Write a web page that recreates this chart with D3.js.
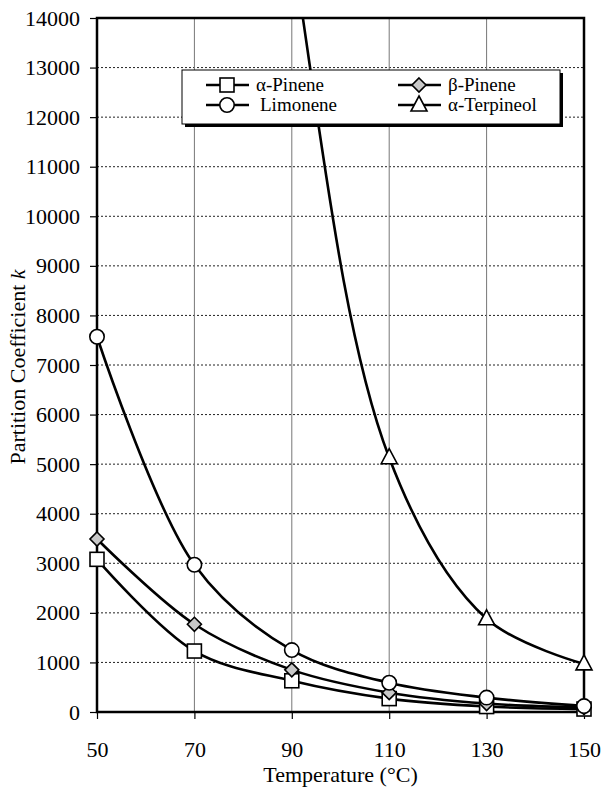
<!DOCTYPE html>
<html>
<head>
<meta charset="utf-8">
<script src="https://cdn.jsdelivr.net/npm/d3@7"></script>
<style>
  body { margin: 0; background: #fff; }
  text { font-family: "Liberation Serif", "Times New Roman", serif; fill: #000; }
</style>
</head>
<body>
<div id="chart"></div>
<script>
// values
var temps = [50, 70, 90, 110, 130, 150];
var aPinene = [3080, 1230, 630, 270, 110, 60];
var bPinene = [3490, 1770, 850, 390, 170, 90];
var limonene = [7570, 2970, 1250, 590, 290, 120];
// the first two points lie above the axis range (off-chart)
var terpTemps = [70, 90, 110, 130, 150];
var terpineol = [32000, 15500, 5130, 1880, 970];
var yTicks = d3.range(0, 14001, 1000);
var xTicks = [50, 70, 90, 110, 130, 150];

var w = 606, h = 790;
var margin = {top: 18, right: 22, bottom: 78, left: 97};

var svg = d3.select("#chart").append("svg")
  .attr("width", w)
  .attr("height", h);

var x = d3.scaleLinear().domain([50, 150]).range([margin.left, w - margin.right]);
var y = d3.scaleLinear().domain([0, 14000]).range([h - margin.bottom, margin.top]);

svg.append("defs").append("clipPath").attr("id", "clip")
  .append("rect")
  .attr("x", x(50) - 12).attr("y", y(14000))
  .attr("width", x(150) - x(50) + 24).attr("height", y(0) - y(14000) + 12);

// grid
svg.append("g").selectAll("line").data(yTicks.slice(1, -1)).enter().append("line")
  .attr("x1", x(50)).attr("x2", x(150))
  .attr("y1", d => y(d)).attr("y2", d => y(d))
  .style("stroke", "#222").style("stroke-width", 1).style("stroke-dasharray", "2,2");

svg.append("g").selectAll("line").data(xTicks.slice(1, -1)).enter().append("line")
  .attr("x1", d => x(d)).attr("x2", d => x(d))
  .attr("y1", y(0)).attr("y2", y(14000))
  .style("stroke", "#777").style("stroke-width", 1);

// axes
var yAxis = svg.append("g")
  .attr("transform", "translate(" + x(50) + ",0)")
  .call(d3.axisLeft(y).tickValues(yTicks).tickSize(7).tickPadding(10).tickFormat(d3.format("d")));
var xAxis = svg.append("g")
  .attr("transform", "translate(0," + y(0) + ")")
  .call(d3.axisBottom(x).tickValues(xTicks).tickSize(7).tickPadding(22).tickFormat(d3.format("d")));

[yAxis, xAxis].forEach(function (a) {
  a.select(".domain").remove();
  a.selectAll("line").style("stroke", "#000").style("stroke-width", 1.2);
  a.selectAll("text").style("font-size", "22px").style("font-family", "Liberation Serif");
});

// frame
svg.append("rect")
  .attr("x", x(50)).attr("y", y(14000))
  .attr("width", x(150) - x(50)).attr("height", y(0) - y(14000))
  .style("fill", "none").style("stroke", "#000").style("stroke-width", 2.5);

// series
var line = d3.line()
  .x(d => x(d[0]))
  .y(d => y(d[1]))
  .curve(d3.curveCatmullRom.alpha(0.5));

var series = [
  {name: "\u03b1-Pinene", xs: temps, ys: aPinene, shape: "square"},
  {name: "\u03b2-Pinene", xs: temps, ys: bPinene, shape: "diamond"},
  {name: "Limonene", xs: temps, ys: limonene, shape: "circle"},
  {name: "\u03b1-Terpineol", xs: terpTemps, ys: terpineol, shape: "triangle"}
];

var plot = svg.append("g").attr("clip-path", "url(#clip)");

series.forEach(function (s) {
  var pts = s.xs.map((t, i) => [t, s.ys[i]]);
  plot.append("path")
    .datum(pts)
    .attr("d", line)
    .style("fill", "none")
    .style("stroke", "#000")
    .style("stroke-width", 2.6);
});

function marker(g, shape, cx, cy) {
  var el;
  if (shape === "square") {
    el = g.append("rect").attr("x", cx - 7).attr("y", cy - 7).attr("width", 14).attr("height", 14);
  } else if (shape === "circle") {
    el = g.append("circle").attr("cx", cx).attr("cy", cy).attr("r", 7.2);
  } else if (shape === "diamond") {
    el = g.append("path").attr("d", "M" + cx + "," + (cy - 7) + "L" + (cx + 7) + "," + cy + "L" + cx + "," + (cy + 7) + "L" + (cx - 7) + "," + cy + "Z");
  } else {
    el = g.append("path").attr("d", "M" + cx + "," + (cy - 9) + "L" + (cx + 8) + "," + (cy + 6) + "L" + (cx - 8) + "," + (cy + 6) + "Z");
  }
  el.style("fill", shape === "diamond" ? "#c8c8c8" : "#fff")
    .style("stroke", "#000").style("stroke-width", 1.6);
}

series.forEach(function (s) {
  s.xs.forEach(function (t, i) {
    if (s.ys[i] <= 14000) marker(plot, s.shape, x(t), y(s.ys[i]));
  });
});

// legend
var lg = svg.append("g").attr("transform", "translate(182,70)");
lg.append("rect").attr("x", 3).attr("y", 3).attr("width", 378).attr("height", 54).style("fill", "#000");
lg.append("rect").attr("x", 0).attr("y", 0).attr("width", 378).attr("height", 54)
  .style("fill", "#fff").style("stroke", "#000").style("stroke-width", 1);
var legPos = [[24, 15], [216, 15], [24, 35], [216, 35]];
series.forEach(function (s, i) {
  var g = lg.append("g").attr("transform", "translate(" + legPos[i][0] + "," + legPos[i][1] + ")");
  g.append("line").attr("x1", 0).attr("x2", 43).attr("y1", 0).attr("y2", 0)
    .style("stroke", "#000").style("stroke-width", 2.6);
  marker(g, s.shape, 21, 0);
  g.append("text").attr("x", s.name === "Limonene" ? 54 : 50).attr("y", 6)
    .style("font-size", "19px").text(s.name);
});

// axis titles
svg.append("text")
  .attr("x", (x(50) + x(150)) / 2).attr("y", 782)
  .attr("text-anchor", "middle")
  .style("font-size", "22px")
  .text("Temperature (\u00b0C)");

var yt = svg.append("text")
  .attr("transform", "translate(25," + (y(7000) + 2) + ") rotate(-90)")
  .attr("text-anchor", "middle")
  .style("font-size", "22px");
yt.append("tspan").text("Partition Coefficient ");
yt.append("tspan").style("font-style", "italic").text("k");
</script>
</body>
</html>
